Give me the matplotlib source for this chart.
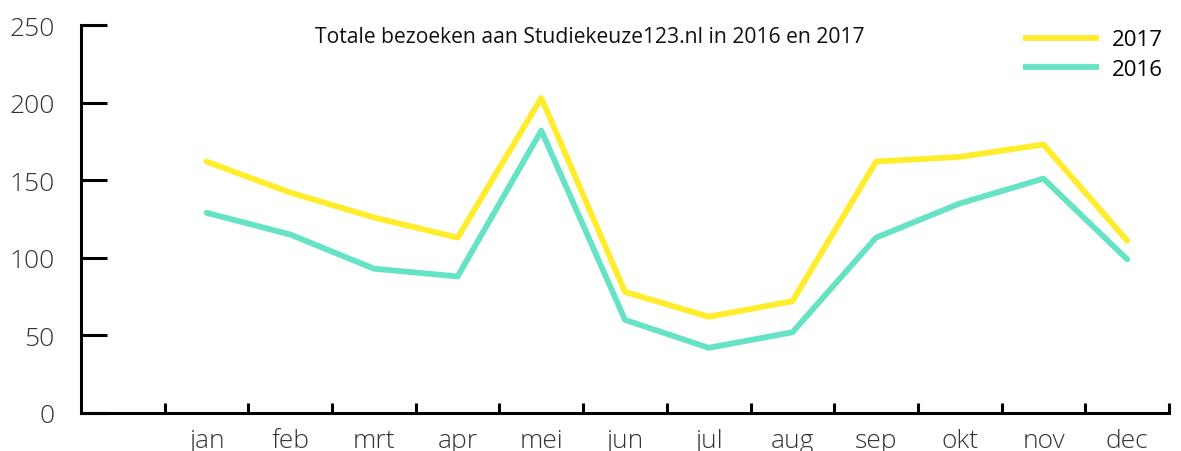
import matplotlib.pyplot as plt
import numpy as np

plt.rcParams['font.family'] = ['Open Sans', 'DejaVu Sans']

#%% DATA
months = ["jan", "feb", "mrt", "apr", "mei", "jun",
          "jul", "aug", "sep", "okt", "nov", "dec"]
visits_2017 = [162, 142, 126, 113, 203, 78, 62, 72, 162, 165, 173, 111]
visits_2016 = [129, 115, 93, 88, 182, 60, 42, 52, 113, 135, 151, 99]
title = "Totale bezoeken aan Studiekeuze123.nl in 2016 en 2017"

#%% PLOT
fig = plt.figure(figsize=(11.81, 4.52), dpi=100)
ax = fig.add_axes([81 / 1181, 38 / 452, 1088 / 1181, 388 / 452])

x = np.arange(1, len(months) + 1)
ax.plot(x, visits_2017, color="#ffec2b", lw=4.2, solid_capstyle="round",
        solid_joinstyle="round", label="2017")
ax.plot(x, visits_2016, color="#66e3c5", lw=4.2, solid_capstyle="round",
        solid_joinstyle="round", label="2016")

ax.set_xlim(-0.5, 12.5)
ax.set_ylim(0, 250)

for s in ["top", "right"]:
    ax.spines[s].set_visible(False)
for s in ["left", "bottom"]:
    ax.spines[s].set_linewidth(2.2)
    ax.spines[s].set_capstyle("projecting")

ax.set_yticks(range(0, 251, 50))
ax.tick_params(axis="y", direction="in", length=19, width=2.2,
               labelsize=19, labelcolor="#333333", pad=19)

ax.set_xticks(x)
ax.set_xticklabels(months)
ax.tick_params(axis="x", which="major", length=0, labelsize=19,
               labelcolor="#333333", pad=11)
ax.set_xticks(np.arange(0.5, 12.6, 1), minor=True)
ax.tick_params(axis="x", which="minor", direction="in", length=7, width=2.2)

for lab in ax.get_xticklabels() + ax.get_yticklabels():
    lab.set_fontweight("light")

ax.text(0.468, 0.997, title, transform=ax.transAxes, ha="center", va="top",
        fontsize=15.2, color="#111111")

leg = ax.legend(loc="upper right", bbox_to_anchor=(1.013, 1.04), frameon=False,
                fontsize=16, handlelength=3.42, handletextpad=0.58,
                labelspacing=0.39)
for ln in leg.get_lines():
    ln.set_solid_capstyle("butt")

fig.savefig("out.png", dpi=100)
